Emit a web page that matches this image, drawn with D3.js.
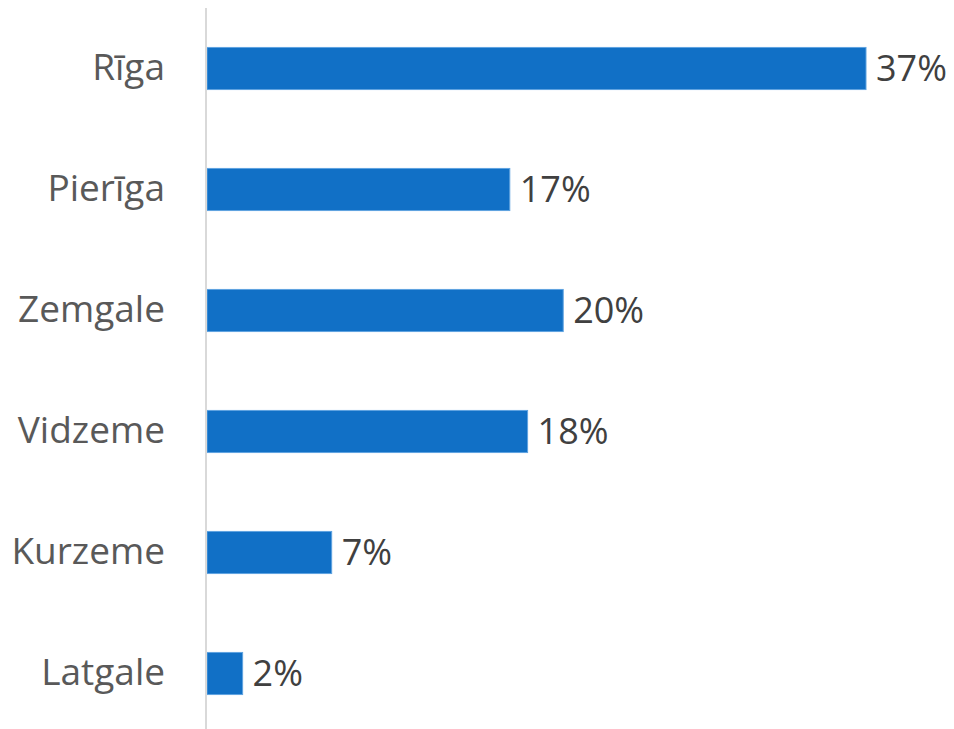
<!DOCTYPE html>
<html>
<head>
<meta charset="utf-8">
<script src="https://cdn.jsdelivr.net/npm/d3@7"></script>
<style>
  html, body { margin: 0; padding: 0; background: #fff; }
  svg { display: block; }
</style>
</head>
<body>
<svg id="chart" width="954" height="729"></svg>
<script>
// Share of respondents by region (%)
const regions = ["Rīga", "Pierīga", "Zemgale", "Vidzeme", "Kurzeme", "Latgale"];
const shares = [37, 17, 20, 18, 7, 2];

const width = 954, height = 729;
const margin = { top: 8, right: 88, bottom: 0, left: 207 };

const svg = d3.select("#chart");

const x = d3.scaleLinear()
  .domain([0, 37])
  .range([margin.left, width - margin.right]);

const y = d3.scaleBand()
  .domain(regions)
  .range([margin.top, height + 5])
  .paddingInner(0.652)
  .paddingOuter(0.326);

const data = regions.map((r, i) => ({ region: r, value: shares[i] }));

// bars
svg.append("g")
  .selectAll("rect")
  .data(data)
  .join("rect")
  .attr("x", x(0))
  .attr("y", d => y(d.region))
  .attr("width", d => x(d.value) - x(0))
  .attr("height", y.bandwidth())
  .attr("fill", "#1170c6")
  .attr("stroke", "#5fa3e0")
  .attr("stroke-width", 1);

// vertical category axis
const yAxis = d3.axisLeft(y).tickSize(0).tickPadding(41);
const gy = svg.append("g")
  .attr("transform", `translate(${x(0) - 1},0)`)
  .call(yAxis);
gy.select(".domain")
  .attr("d", `M0,${margin.top}V${height}`)
  .attr("stroke", "#d9d9d9")
  .attr("stroke-width", 2);
gy.selectAll("text")
  .attr("fill", "#595959")
  .attr("font-family", "'Open Sans', 'Noto Sans', sans-serif")
  .attr("font-size", 37);

// value labels
svg.append("g")
  .selectAll("text")
  .data(data)
  .join("text")
  .attr("x", d => x(d.value) + 10)
  .attr("y", d => y(d.region) + y.bandwidth() / 2)
  .attr("dy", "0.36em")
  .attr("fill", "#404040")
  .attr("font-family", "'Open Sans', 'Noto Sans', sans-serif")
  .attr("font-size", 36)
  .text(d => d.value + "%");
</script>
</body>
</html>
